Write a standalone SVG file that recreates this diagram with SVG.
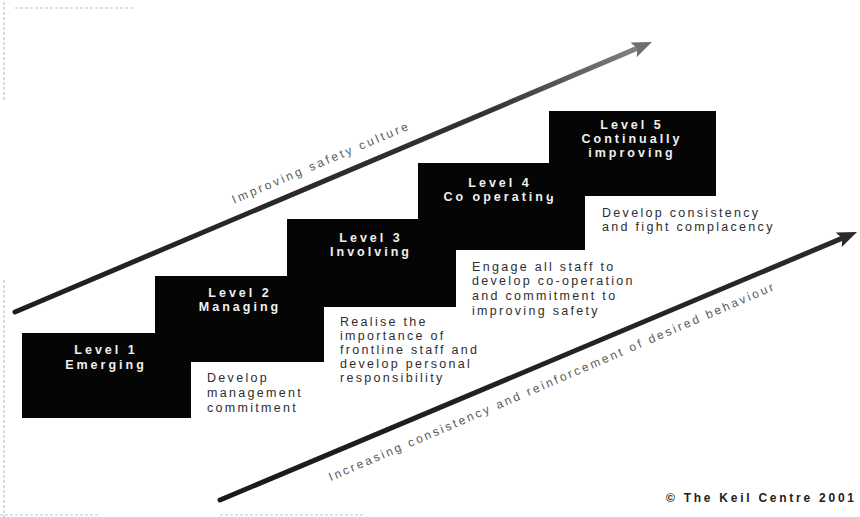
<svg xmlns="http://www.w3.org/2000/svg" width="860" height="517" viewBox="0 0 860 517">
  <defs>
    <style>
      .box { fill: #050505; }
      .lvl { font-family: "Liberation Sans", Arial, sans-serif; font-size: 12.5px; font-weight: 700; fill: #f0f0f0; text-anchor: middle; letter-spacing: 3px; }
      .desc { font-family: "Liberation Sans", Arial, sans-serif; font-size: 12.5px; fill: #2e2e2e; letter-spacing: 2.3px; }
      .alabel { font-family: "Liberation Sans", Arial, sans-serif; font-size: 12px; fill: #5a5a5a; text-anchor: middle; }
      .copy { font-family: "Liberation Sans", Arial, sans-serif; font-size: 12px; font-weight: 700; fill: #222; }
      .scan { stroke: #c4c4c4; stroke-width: 1.2; stroke-dasharray: 3 2; fill: none; }
    </style>
    <linearGradient id="gTop" gradientUnits="userSpaceOnUse" x1="15" y1="312" x2="652" y2="42">
      <stop offset="0" stop-color="#1e1e1e"/>
      <stop offset="0.75" stop-color="#333"/>
      <stop offset="1" stop-color="#8a8a8a"/>
    </linearGradient>
    <linearGradient id="gBot" gradientUnits="userSpaceOnUse" x1="220" y1="500" x2="857" y2="232">
      <stop offset="0" stop-color="#1a1a1a"/>
      <stop offset="1" stop-color="#2a2a2a"/>
    </linearGradient>
    <marker id="headTop" viewBox="0 0 20 16" refX="10" refY="8" markerWidth="20" markerHeight="16" markerUnits="userSpaceOnUse" orient="auto">
      <path d="M0,0 L20,8 L0,16 L4,8 z" fill="#6e6e6e"/>
    </marker>
    <marker id="headBot" viewBox="0 0 20 16" refX="10" refY="8" markerWidth="20" markerHeight="16" markerUnits="userSpaceOnUse" orient="auto">
      <path d="M0,0 L20,8 L0,16 L4,8 z" fill="#2a2a2a"/>
    </marker>
  </defs>

  <rect width="860" height="517" fill="#ffffff"/>

  <!-- scan edge artifacts -->
  <g id="scan-edges">
    <line class="scan" x1="4" y1="2" x2="4" y2="100"/>
    <line class="scan" x1="4" y1="280" x2="4" y2="517"/>
    <line class="scan" x1="15" y1="8" x2="135" y2="8"/>
    <line class="scan" x1="0" y1="515" x2="100" y2="515"/>
    <line class="scan" x1="220" y1="515" x2="365" y2="515"/>
  </g>

  <!-- connectors -->
  <g id="connectors">
    <line x1="15" y1="312" x2="642.8" y2="45.9" stroke="url(#gTop)" stroke-width="5" stroke-linecap="round" marker-end="url(#headTop)"/>
    <line x1="220" y1="500" x2="847.8" y2="235.9" stroke="url(#gBot)" stroke-width="5" stroke-linecap="round" marker-end="url(#headBot)"/>
    <text class="alabel" transform="translate(320,163) rotate(-23)" x="0" y="4" textLength="190" lengthAdjust="spacing">Improving safety culture</text>
    <text class="alabel" transform="translate(551,382) rotate(-23.3)" x="0" y="4" textLength="483" lengthAdjust="spacing">Increasing consistency and reinforcement of desired behaviour</text>
  </g>

  <!-- levels -->
  <g id="level2">
    <rect class="box" x="155" y="276" width="169" height="86"/>
    <text class="lvl" x="240" y="297">Level 2</text>
    <text class="lvl" x="240" y="311">Managing</text>
  </g>
  <g id="level1">
    <rect class="box" x="22" y="333" width="169" height="85"/>
    <text class="lvl" x="106" y="354">Level 1</text>
    <text class="lvl" x="106" y="369">Emerging</text>
  </g>
  <g id="level3">
    <rect class="box" x="287" y="219" width="169" height="88"/>
    <text class="lvl" x="371" y="242">Level 3</text>
    <text class="lvl" x="371" y="256">Involving</text>
  </g>
  <g id="level4">
    <rect class="box" x="418" y="163" width="167" height="87"/>
    <text class="lvl" x="500" y="187">Level 4</text>
    <text class="lvl" x="500" y="201">Co operating</text>
  </g>
  <g id="level5">
    <rect class="box" x="549" y="111" width="167" height="85"/>
    <text class="lvl" x="632" y="129">Level 5</text>
    <text class="lvl" x="632" y="143">Continually</text>
    <text class="lvl" x="632" y="157">improving</text>
  </g>

  <!-- descriptions -->
  <g id="desc1">
    <text class="desc" x="207" y="382">Develop</text>
    <text class="desc" x="207" y="397">management</text>
    <text class="desc" x="207" y="412">commitment</text>
  </g>
  <g id="desc2">
    <text class="desc" x="340" y="326">Realise the</text>
    <text class="desc" x="340" y="340">importance of</text>
    <text class="desc" x="340" y="354">frontline staff and</text>
    <text class="desc" x="340" y="368">develop personal</text>
    <text class="desc" x="340" y="382">responsibility</text>
  </g>
  <g id="desc3">
    <text class="desc" x="472" y="271">Engage all staff to</text>
    <text class="desc" x="472" y="285">develop co-operation</text>
    <text class="desc" x="472" y="300">and commitment to</text>
    <text class="desc" x="472" y="315">improving safety</text>
  </g>
  <g id="desc4">
    <text class="desc" x="602" y="217">Develop consistency</text>
    <text class="desc" x="602" y="231">and fight complacency</text>
  </g>

  <text class="copy" x="666" y="502" textLength="188" lengthAdjust="spacing">© The Keil Centre 2001</text>
</svg>
